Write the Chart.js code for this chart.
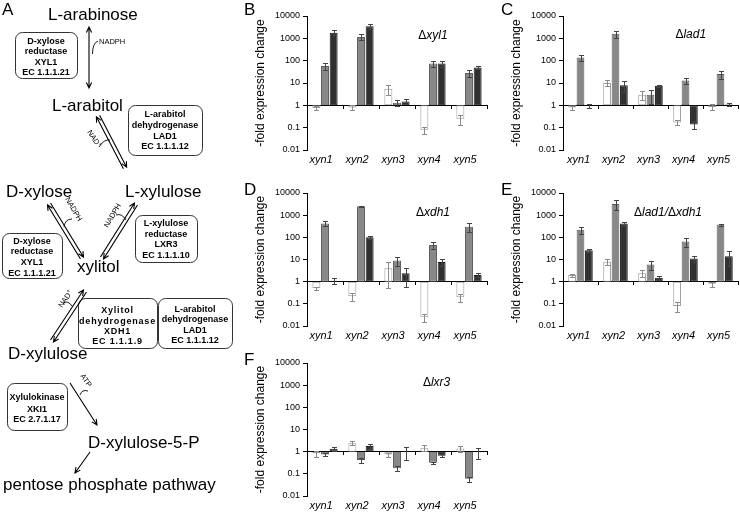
<!DOCTYPE html>
<html><head><meta charset="utf-8">
<script src="https://cdn.jsdelivr.net/npm/chart.js@4.4.0/dist/chart.umd.min.js"></script>
<style>
html,body{margin:0;padding:0;background:#fff;}
#wrap{position:relative;width:740px;height:512px;overflow:hidden;font-family:"Liberation Sans",Arial,sans-serif;}
canvas{position:absolute;}
svg{position:absolute;left:0;top:0;pointer-events:none;}
</style></head><body><div id="wrap">
<canvas id="cB" width="250" height="170" style="left:240px;top:0px"></canvas>
<canvas id="cC" width="243" height="170" style="left:497px;top:0px"></canvas>
<canvas id="cD" width="250" height="176" style="left:240px;top:170px"></canvas>
<canvas id="cE" width="243" height="176" style="left:497px;top:170px"></canvas>
<canvas id="cF" width="250" height="176" style="left:240px;top:340px"></canvas>
<svg id="diag" width="740" height="512"></svg>
</div>
<script>
// ---------- data ----------
const categories = ['xyn1', 'xyn2', 'xyn3', 'xyn4', 'xyn5'];
const yTickValues = [0.01, 0.1, 1, 10, 100, 1000, 10000];
const yTickLabels = ['0.01', '0.1', '1', '10', '100', '1000', '10000'];
const yAxisTitle = '-fold expression change';
const seriesNames = ['series 1', 'series 2', 'series 3'];

// B  Δxyl1
const bWhite = [0.75, 0.8, 5.5, 0.08, 0.25];
const bWhiteErr = [0.15, 0.2, 2.5, 0.03, 0.12];
const bGray = [58, 1150, 1.3, 75, 28];
const bGrayErr = [20, 350, 0.4, 25, 10];
const bBlack = [1800, 3500, 1.5, 75, 50];
const bBlackErr = [450, 800, 0.4, 22, 8];
// C  Δlad1
const cWhite = [0.8, 10, 3, 0.17, 0.85];
const cWhiteErr = [0.15, 3, 1.2, 0.04, 0.25];
const cGray = [140, 1600, 3, 13, 25];
const cGrayErr = [40, 600, 1.8, 4, 10];
const cBlack = [0.95, 8, 7.5, 0.14, 1.1];
const cBlackErr = [0.2, 4, 1, 0.05, 0.2];
// D  Δxdh1
const dWhite = [0.5, 0.22, 4, 0.025, 0.2];
const dWhiteErr = [0.08, 0.08, 3.5, 0.01, 0.08];
const dGray = [420, 2500, 9, 45, 300];
const dGrayErr = [100, 200, 4, 15, 130];
const dBlack = [1.1, 100, 2.4, 7.8, 2];
const dBlackErr = [0.3, 15, 1.8, 2.5, 0.4];
// E  Δlad1/Δxdh1
const eWhite = [2, 8, 2.4, 0.08, 0.8];
const eWhiteErr = [0.3, 2.5, 0.8, 0.035, 0.2];
const eGray = [220, 3200, 6, 65, 380];
const eGrayErr = [80, 1500, 2.5, 30, 40];
const eBlack = [26, 420, 1.5, 11, 14];
const eBlackErr = [5, 80, 0.3, 3, 9];
// F  Δlxr3
const fWhite = [0.85, 2.4, 0.75, 1.5, 1.4];
const fWhiteErr = [0.25, 0.5, 0.15, 0.4, 0.4];
const fGray = [0.75, 0.42, 0.18, 0.32, 0.06];
const fGrayErr = [0.08, 0.1, 0.05, 0.03, 0.015];
const fBlack = [1.35, 1.8, 1.05, 0.65, 0.95];
const fBlackErr = [0.3, 0.5, 0.65, 0.1, 0.5];

const panelTitles = ['\u0394xyl1', '\u0394lad1', '\u0394xdh1', '\u0394lad1/\u0394xdh1', '\u0394lxr3'];

// ---------- styling ----------
Chart.defaults.font.family = '"Liberation Sans", Arial, sans-serif';
const fills = ['#ffffff', '#888888', '#303030'];
const borders = ['#9a9a9a', '#5c5c5c', '#1c1c1c'];
const errColors = ['#8a8a8a', '#444444', '#444444'];

const errorBars = {
  id: 'errorBars',
  afterDatasetsDraw(chart) {
    const ctx = chart.ctx, y = chart.scales.y;
    chart.data.datasets.forEach((ds, di) => {
      const meta = chart.getDatasetMeta(di);
      meta.data.forEach((bar, i) => {
        const v = ds.data[i][1], e = ds.errors[i];
        const lo = Math.max(v - e, 0.011), hi = v + e;
        const x = Math.round(bar.x) + 0.5;
        const y1 = Math.round(y.getPixelForValue(hi)) + 0.5, y2 = Math.round(y.getPixelForValue(lo)) + 0.5;
        ctx.save();
        ctx.strokeStyle = ds.errColor; ctx.lineWidth = 1;
        ctx.beginPath();
        ctx.moveTo(x, y1); ctx.lineTo(x, y2);
        ctx.moveTo(x - 2.5, y1); ctx.lineTo(x + 2.5, y1);
        ctx.moveTo(x - 2.5, y2); ctx.lineTo(x + 2.5, y2);
        ctx.stroke();
        ctx.restore();
      });
    });
  }
};

const panelTitle = {
  id: 'panelTitle',
  afterDraw(chart, args, opts) {
    const {ctx, chartArea: a} = chart;
    const parts = opts.text.split(/(\u0394)/).filter(s => s);
    const fonts = parts.map(p => p === '\u0394' ? '12px "Liberation Sans", Arial' : 'italic 12px "Liberation Sans", Arial');
    ctx.save(); ctx.fillStyle = '#000'; ctx.textBaseline = 'alphabetic'; ctx.textAlign = 'left';
    let total = 0;
    const widths = parts.map((p, i) => { ctx.font = fonts[i]; const w = ctx.measureText(p).width; total += w; return w; });
    let x = a.left + opts.fx * (a.right - a.left) - total / 2;
    const yy = a.top + opts.dy;
    parts.forEach((p, i) => { ctx.font = fonts[i]; ctx.fillText(p, x, yy); x += widths[i]; });
    ctx.restore();
  }
};

function makePanel(id, series, errs, title, cfg) {
  new Chart(document.getElementById(id), {
    type: 'bar',
    data: {
      labels: categories,
      datasets: series.map((vals, i) => ({
        label: seriesNames[i],
        data: vals.map(v => [1, v]),
        errors: errs[i],
        errColor: errColors[i],
        backgroundColor: fills[i],
        borderColor: borders[i],
        borderWidth: 1,
        borderSkipped: false,
        categoryPercentage: 0.72,
        barPercentage: 0.92,
        xAxisID: 'x', yAxisID: 'y'
      }))
    },
    options: {
      responsive: false, animation: false, maintainAspectRatio: false,
      layout: {padding: {top: cfg.padTop, right: cfg.padRight, left: 0, bottom: 0}},
      plugins: {legend: {display: false}, tooltip: {enabled: false},
        panelTitle: {text: title, fx: cfg.fx, dy: cfg.dy}},
      scales: {
        x: {
          type: 'category', position: {y: 1}, offset: true,
          grid: {offset: true, drawOnChartArea: false, drawTicks: true, tickLength: 3, color: '#000'},
          border: {display: true, color: '#000', width: 1},
          ticks: {display: false}
        },
        x2: {
          type: 'category', position: 'bottom', offset: true,
          grid: {display: false, drawTicks: false},
          border: {display: false},
          ticks: {font: {size: 11, style: 'italic'}, color: '#000', padding: 3, labelOffset: cfg.labelOffset, maxRotation: 0, autoSkip: false},
          afterFit(s) { s.height = 20; }
        },
        y: {
          type: 'logarithmic', min: 0.01, max: 10000, position: 'left',
          afterBuildTicks(s) { s.ticks = yTickValues.map(v => ({value: v})); },
          ticks: {callback: (v, i) => yTickLabels[i], font: {size: 9}, color: '#000', padding: 3},
          grid: {drawOnChartArea: false, tickLength: 4, color: '#000'},
          border: {color: '#000', width: 1},
          title: {display: true, text: yAxisTitle, font: {size: 12}, color: '#000', padding: {top: cfg.titlePad, bottom: 0}},
          afterFit(s) { s.width = cfg.yWidth; }
        }
      }
    },
    plugins: [errorBars, panelTitle]
  });
}

makePanel('cB', [bWhite, bGray, bBlack], [bWhiteErr, bGrayErr, bBlackErr], panelTitles[0],
  {padTop: 16, padRight: 3, yWidth: 67, titlePad: 13, fx: 0.7, dy: 23, labelOffset: -4});
makePanel('cC', [cWhite, cGray, cBlack], [cWhiteErr, cGrayErr, cBlackErr], panelTitles[1],
  {padTop: 16, padRight: 2, yWidth: 66, titlePad: 12, fx: 0.73, dy: 22, labelOffset: -2});
makePanel('cD', [dWhite, dGray, dBlack], [dWhiteErr, dGrayErr, dBlackErr], panelTitles[2],
  {padTop: 23, padRight: 3, yWidth: 67, titlePad: 13, fx: 0.7, dy: 23, labelOffset: -4});
makePanel('cE', [eWhite, eGray, eBlack], [eWhiteErr, eGrayErr, eBlackErr], panelTitles[3],
  {padTop: 23, padRight: 2, yWidth: 66, titlePad: 12, fx: 0.6, dy: 23, labelOffset: -2});
makePanel('cF', [fWhite, fGray, fBlack], [fWhiteErr, fGrayErr, fBlackErr], panelTitles[4],
  {padTop: 23, padRight: 3, yWidth: 67, titlePad: 13, fx: 0.72, dy: 23, labelOffset: -4});

// ---------- pathway diagram (panel A) and panel letters ----------
const svg = document.getElementById('diag');
const NS = 'http://www.w3.org/2000/svg';
const FF = '"Liberation Sans", Arial, sans-serif';
function el(tag, attrs) { const e = document.createElementNS(NS, tag); for (const k in attrs) e.setAttribute(k, attrs[k]); svg.appendChild(e); return e; }
function txt(x, y, s, size, o = {}) {
  const t = el('text', {x, y, 'font-size': size, 'font-family': FF, 'text-anchor': o.anchor || 'start', 'font-weight': o.bold ? 'bold' : 'normal', fill: '#000'});
  if (o.rot) t.setAttribute('transform', `rotate(${o.rot} ${x} ${y})`);
  if (o.ls) t.setAttribute('letter-spacing', o.ls);
  if (o.sup) {
    t.appendChild(document.createTextNode(s));
    const sp = document.createElementNS(NS, 'tspan'); sp.setAttribute('font-size', size * 0.7); sp.setAttribute('dy', -size * 0.4); sp.textContent = o.sup; t.appendChild(sp);
  } else t.textContent = s;
  return t;
}
function box(x1, y1, x2, y2, lines, bases, ls) {
  el('rect', {x: x1 + 0.5, y: y1 + 0.5, width: x2 - x1, height: y2 - y1, rx: 7, ry: 7, fill: 'none', stroke: '#333', 'stroke-width': 1});
  lines.forEach((l, i) => txt((x1 + x2) / 2, bases[i], l, 9, {anchor: 'middle', bold: true, ls: ls || 0}));
}
function head(x, y, ang) {
  const L = 6, s = 0.45;
  const a1 = ang + Math.PI - s, a2 = ang + Math.PI + s;
  return `M${x + L * Math.cos(a1)} ${y + L * Math.sin(a1)} L${x} ${y} L${x + L * Math.cos(a2)} ${y + L * Math.sin(a2)}`;
}
function line(x1, y1, x2, y2, h1, h2) {
  const ang = Math.atan2(y2 - y1, x2 - x1);
  let d = `M${x1} ${y1} L${x2} ${y2}`;
  if (h2) d += ' ' + head(x2, y2, ang);
  if (h1) d += ' ' + head(x1, y1, ang + Math.PI);
  el('path', {d, stroke: '#000', 'stroke-width': 1.1, fill: 'none'});
}
function dbl(x1, y1, x2, y2) {
  const ang = Math.atan2(y2 - y1, x2 - x1), nx = -Math.sin(ang) * 1.8, ny = Math.cos(ang) * 1.8;
  line(x1 + nx, y1 + ny, x2 + nx, y2 + ny, true, false);
  line(x1 - nx, y1 - ny, x2 - nx, y2 - ny, false, true);
}
function hook(d) { el('path', {d, stroke: '#000', 'stroke-width': 0.9, fill: 'none'}); }

// panel letters
txt(2, 15, 'A', 17); txt(244, 15, 'B', 17); txt(501, 15, 'C', 17);
txt(244, 195, 'D', 17); txt(501, 195, 'E', 17); txt(244, 365, 'F', 17);

// compounds
txt(48, 20, 'L-arabinose', 17);
txt(52, 111, 'L-arabitol', 17);
txt(6, 197, 'D-xylose', 17);
txt(125, 197, 'L-xylulose', 17);
txt(77, 272, 'xylitol', 17);
txt(8, 359, 'D-xylulose', 17);
txt(88, 448, 'D-xylulose-5-P', 17);
txt(3, 490, 'pentose phosphate pathway', 17);

// enzyme boxes
box(15, 32, 77, 78, ['D-xylose', 'reductase', 'XYL1', 'EC 1.1.1.21'], [43.5, 54, 64.5, 75]);
box(128, 105, 202, 155, ['L-arabitol', 'dehydrogenase', 'LAD1', 'EC 1.1.1.12'], [116.5, 127.5, 138.5, 149]);
box(135, 215, 197, 262, ['L-xylulose', 'reductase', 'LXR3', 'EC 1.1.1.10'], [226, 236.5, 247, 257.5]);
box(2, 233, 62, 278, ['D-xylose', 'reductase', 'XYL1', 'EC 1.1.1.21'], [243.5, 254, 265, 275.5]);
box(78, 298, 157, 348, ['Xylitol', 'dehydrogenase', 'XDH1', 'EC 1.1.1.9'], [312.5, 323.5, 334, 344], 0.8);
box(158, 298, 232, 348, ['L-arabitol', 'dehydrogenase', 'LAD1', 'EC 1.1.1.12'], [311.5, 322, 332.5, 343]);
box(7, 383, 67, 430, ['Xylulokinase', 'XKI1', 'EC 2.7.1.17'], [400, 411.5, 422]);

// arrows
line(89, 27, 89, 88, true, true);
hook('M98 41 Q92.5 43 92.5 54');
txt(99, 44, 'NADPH', 7.5);

dbl(98, 116, 125, 168);
txt(87, 132, 'NAD', 7.5, {rot: 57, sup: '+'});
hook('M99 147 Q104 139 110 140');

dbl(49, 204, 82, 258);
txt(65, 199, 'NADPH', 7.5, {rot: 60});
hook('M64 227 Q65 219 72 219');

dbl(136, 204, 102, 258);
txt(108, 228, 'NADPH', 7.5, {rot: -60});
hook('M126 220 Q122 213 116 215');

dbl(85, 291, 52, 341);
txt(62, 308, 'NAD', 7.5, {rot: -55, sup: '+'});
hook('M72 306 Q68 300 63 303');

line(70, 383, 97, 425, false, true);
txt(80, 376, 'ATP', 7.5, {rot: 55});
hook('M80 395 Q82 389 88 391');

line(90, 452, 75, 473, false, true);
</script>
</body></html>
